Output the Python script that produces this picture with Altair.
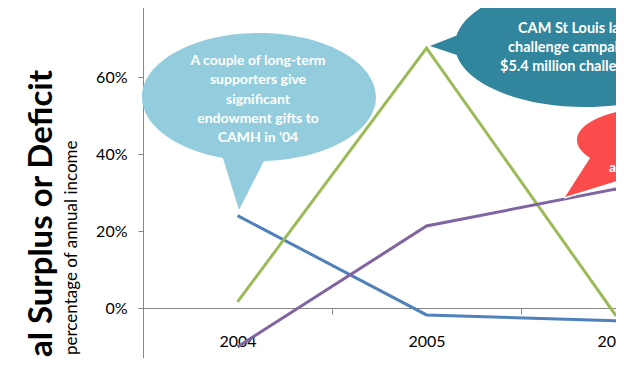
import altair as alt
import pandas as pd

# ---- data ----
years = ["2004", "2005", "2006", "2007"]
series_names = ["Series 1", "Series 2", "Series 3"]
blue_values = [0.24, -0.018, -0.033, -0.34]
green_values = [0.016, 0.675, -0.018, 0.10]
purple_values = [-0.101, 0.213, 0.309, -0.06]
y_ticks = [-0.2, 0.0, 0.2, 0.4, 0.6, 0.8]

title_text = "Annual Surplus or Deficit"
subtitle_text = "percentage of annual income"
bubble1_lines = ["A couple of long-term", "supporters give", "significant",
                 "endowment gifts to", "CAMH in '04"]
bubble2_lines = ["CAM St Louis launches", "challenge campaign:", "$5.4 million challenge"]
bubble3_lines = ["and"]

colors = ["#4F81BD", "#9BBB59", "#8064A2"]

rows = []
for name, vals in zip(series_names, [blue_values, green_values, purple_values]):
    for yr, v in zip(years, vals):
        rows.append({"series": name, "year": yr, "value": v})
df = pd.DataFrame(rows)
one = pd.DataFrame({"k": [0]})

AX = "#868686"
FONT = "Lato"

lines = alt.Chart(df).mark_line(strokeWidth=3).encode(
    x=alt.X("year:O", sort=years,
            scale=alt.Scale(type="band", paddingInner=0, paddingOuter=0),
            axis=alt.Axis(title=None, tickBand="extent", offset=-77, domainColor=AX,
                          tickColor=AX, tickSize=6, labelFontSize=16, labelFont=FONT,
                          labelColor="#000000", labelPadding=19, labelAngle=0,
                          labelBaseline="top", grid=False)),
    y=alt.Y("value:Q", scale=alt.Scale(domain=[-0.2, 0.8], nice=False, zero=False),
            axis=alt.Axis(title=None, values=y_ticks, format=".0%", domainColor=AX,
                          tickColor=AX, tickSize=5, labelPadding=11, labelFontSize=16,
                          labelFont=FONT, labelColor="#000000", grid=False,
                          labelFlush=False, labelOverlap=False)),
    color=alt.Color("series:N", scale=alt.Scale(domain=series_names, range=colors), legend=None),
)


def ellipse_path(rx, ry):
    k = 0.5523
    return (f"M{rx},0 C{rx},{k*ry} {k*rx},{ry} 0,{ry} "
            f"C{-k*rx},{ry} {-rx},{k*ry} {-rx},0 "
            f"C{-rx},{-k*ry} {-k*rx},{-ry} 0,{-ry} "
            f"C{k*rx},{-ry} {rx},{-k*ry} {rx},0 Z")


def bubble(cx, cy, rx, ry, tail, color, stroke_w=0):
    path = ellipse_path(rx, ry) + " M" + " L".join(f"{a},{b}" for a, b in tail) + " Z"
    kw = dict(shape=path, size=4, filled=True, opacity=1, fill=color, fillOpacity=1)
    if stroke_w:
        kw.update(stroke=color, strokeWidth=stroke_w, strokeJoin="round")
    else:
        kw.update(strokeWidth=0)
    return alt.Chart(one).mark_point(**kw).encode(x=alt.value(cx), y=alt.value(cy))


b1 = bubble(116, 97, 117, 64, [(-38, 55), (8, 58), (-20, 113)], "#93CDDD")
b2 = bubble(442, 45, 130, 62, [(-122, -12), (-119, 13), (-155, 1)], "#31859C")
red_tail = [(-68, 15), (-8, 30), (-95, 57)]
b3_halo = bubble(517, 140, 83, 33, red_tail, "white", stroke_w=3)
b3 = bubble(517, 140, 83, 33, red_tail, "#FB4B4B")

t1 = alt.Chart(one).mark_text(align="center", baseline="middle", font=FONT, fontSize=14,
                              fontWeight="bold", color="white", lineHeight=19.3).encode(
    x=alt.value(115), y=alt.value(61), text=alt.value(bubble1_lines))

t2_layers = []
for line, xx, yy in zip(bubble2_lines, [375, 365, 357], [29, 48, 67]):
    t2_layers.append(alt.Chart(one).mark_text(align="left", baseline="middle", font=FONT,
                                              fontSize=14.5, fontWeight="bold", color="white").encode(
        x=alt.value(xx), y=alt.value(yy), text=alt.value(line)))

t3 = alt.Chart(one).mark_text(align="left", baseline="middle", font=FONT, fontSize=14,
                              fontWeight="bold", color="white").encode(
    x=alt.value(466), y=alt.value(168), text=alt.value(bubble3_lines[0]))

title = alt.Chart(one).mark_text(align="right", baseline="alphabetic", angle=270, font=FONT,
                                 fontSize=33, fontWeight="bold", color="#000000").encode(
    x=alt.value(-91), y=alt.value(70), text=alt.value(title_text))

subtitle = alt.Chart(one).mark_text(align="left", baseline="alphabetic", angle=270, font=FONT,
                                    fontSize=17, color="#000000").encode(
    x=alt.value(-66), y=alt.value(355), text=alt.value(subtitle_text))

chart = alt.layer(lines, b1, b2, b3_halo, b3, t1, *t2_layers, t3, title, subtitle).properties(
    width=756, height=385,
    autosize=alt.AutoSizeParams(type="none"),
    padding={"left": 135, "top": -8, "right": -283, "bottom": -27},
    background="white",
).configure_view(stroke=None)

chart.save("out.html", embed_options={"renderer": "svg", "actions": False})
